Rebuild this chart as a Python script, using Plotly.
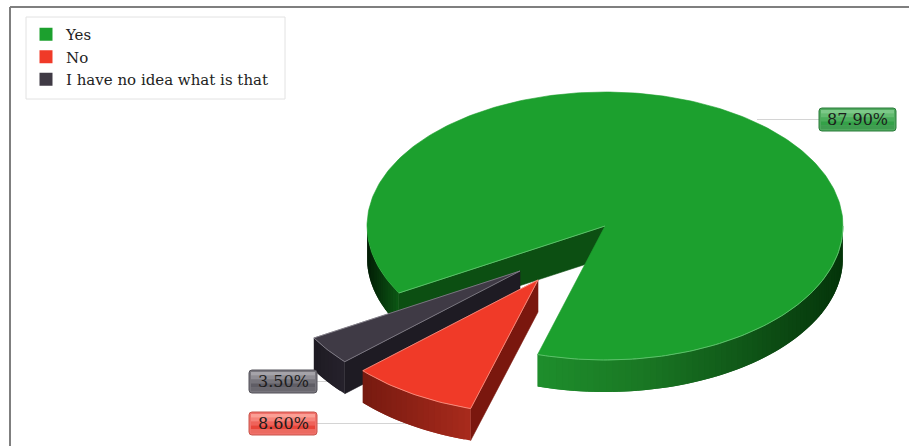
import math
import plotly.graph_objects as go

# ---- data ----
categories = ["Yes", "No", "I have no idea what is that"]
values = [87.9, 8.6, 3.5]

# ---- style / layout constants (pixels on a 909x446 canvas) ----
W, H = 909, 446
TOP_COL = ["#1ca02e", "#f03a28", "#3f3a45"]
EDGE_COL = ["#5cc06a", "#f79a8c", "#8a8690"]
SIDE_COL = ["#0c4f12", "#7a170e", "#1e1b23"]
# outer-wall colour stops as (x position, rgb)
WALL_STOPS = [
    [(367, (2, 28, 5)), (399, (12, 88, 20)), (538, (30, 142, 44)), (640, (26, 120, 36)), (740, (16, 88, 24)), (843, (4, 52, 10))],
    [(362, (118, 26, 16)), (470, (168, 42, 28))],
    [(315, (30, 27, 35)), (346, (38, 34, 44))],
]
CENTERS = [(605, 226), (538, 280), (520, 271)]
RX, RY, DEPTH = 238, 134, 32
START_DEG = 240
LABEL_BOX = [(819, 108), (249, 412), (249, 370)]
LABEL_W, LABEL_H = [77, 68, 68], 23
LEADER = [(757, 120), (415, 424), (332, 381)]
GLOSS = [
    ("#4fa95e", "#7cc888", "#63bb71", "#4aae5b", "#34a148", "#3f9d50", "#2b7d3a"),
    ("#f0706a", "#fb9f95", "#f6837a", "#ef635a", "#e8453a", "#ec6a60", "#c9574c"),
    ("#77757c", "#a5a3a9", "#8f8d94", "#76747b", "#5f5d65", "#6a686f", "#55535a"),
]


def lerp_color(stops, x):
    if x <= stops[0][0]:
        c = stops[0][1]
    elif x >= stops[-1][0]:
        c = stops[-1][1]
    else:
        for (x0, c0), (x1, c1) in zip(stops, stops[1:]):
            if x0 <= x <= x1:
                t = (x - x0) / (x1 - x0)
                c = tuple(a + (b - a) * t for a, b in zip(c0, c1))
                break
    return "rgb(%d,%d,%d)" % tuple(round(v) for v in c)


def rim(center, deg):
    a = math.radians(deg)
    return center[0] + RX * math.sin(a), center[1] - RY * math.cos(a)


def arc(center, a0, a1, step=1.0):
    n = max(2, int(abs(a1 - a0) / step) + 1)
    return [rim(center, a0 + (a1 - a0) * i / (n - 1)) for i in range(n)]


def poly(fig, pts, fill, line=None, width=0.6):
    xs, ys = zip(*pts)
    fig.add_trace(go.Scatter(
        x=list(xs) + [xs[0]], y=list(ys) + [ys[0]], mode="lines", fill="toself",
        fillcolor=fill, line=dict(color=line or fill, width=width),
        hoverinfo="skip", showlegend=False))


def wall(fig, center, a0, a1, stops):
    # each band overlaps the next one so no seams show between them
    pts = arc(center, a0, a1, 1.5)
    for j in range(len(pts) - 1):
        p, q = pts[j], pts[min(j + 2, len(pts) - 1)]
        mid = pts[j + 1]
        col = lerp_color(stops, (p[0] + mid[0]) / 2)
        band = [p, mid, q, (q[0], q[1] + DEPTH), (mid[0], mid[1] + DEPTH), (p[0], p[1] + DEPTH)]
        poly(fig, band, col, width=0)


# slice angles, clockwise in the disc plane, from the values
spans = [v / sum(values) * 360 for v in values]
a_yes0 = START_DEG
a_yes1 = a_yes0 + spans[0]
a_no1 = a_yes1 + spans[1]
a_idea1 = a_no1 + spans[2]
angles = [(a_yes0, a_yes1), (a_yes1, a_no1), (a_no1, a_idea1)]

fig = go.Figure()

# --- Yes slice ---
c = CENTERS[0]
a0, a1 = angles[0]
wall(fig, c, a0, 270, WALL_STOPS[0])
wall(fig, c, 90 + 360, a1, WALL_STOPS[0])
e = rim(c, a0)
poly(fig, [c, e, (e[0], e[1] + DEPTH), (c[0], c[1] + DEPTH)], SIDE_COL[0])
poly(fig, [c] + arc(c, a0, a1), TOP_COL[0], TOP_COL[0])
fig.add_trace(go.Scatter(x=[e[0], c[0]], y=[e[1], c[1]], mode="lines",
                         line=dict(color=EDGE_COL[0], width=1), hoverinfo="skip", showlegend=False))
pts = arc(c, 90 + 360, a1)
fig.add_trace(go.Scatter(x=[p[0] for p in pts], y=[p[1] for p in pts], mode="lines",
                         line=dict(color=EDGE_COL[0], width=1), hoverinfo="skip", showlegend=False))

# --- idea slice then No slice (front most last) ---
for i in (2, 1):
    c = CENTERS[i]
    a0, a1 = angles[i]
    e0 = rim(c, a0)
    poly(fig, [c, e0, (e0[0], e0[1] + DEPTH), (c[0], c[1] + DEPTH)], SIDE_COL[i])
    wall(fig, c, a0, a1, WALL_STOPS[i])
    outline = [c] + arc(c, a0, a1)
    poly(fig, outline, TOP_COL[i], TOP_COL[i])
    closed = outline + [c]
    fig.add_trace(go.Scatter(x=[p[0] for p in closed], y=[p[1] for p in closed], mode="lines",
                             line=dict(color=EDGE_COL[i], width=0.8), hoverinfo="skip", showlegend=False))

# --- legend entries ---
for name, col in zip(categories, TOP_COL):
    fig.add_trace(go.Scatter(x=[None], y=[None], mode="markers", name=name,
                             marker=dict(symbol="square", size=13, color=col)))

# --- frame, legend box and data labels ---
shapes = [
    dict(type="line", x0=10, x1=10, y0=7, y1=H, line=dict(color="#7f7f7f", width=2)),
    dict(type="line", x0=10, x1=W, y0=7, y1=7, line=dict(color="#7f7f7f", width=2)),
    dict(type="rect", x0=26, x1=285, y0=17, y1=99, fillcolor="white", line=dict(color="#e2e2e2", width=1)),
]
annotations = []
for v, (bx, by), bw, (lx, ly), g in zip(values, LABEL_BOX, LABEL_W, LEADER, GLOSS):
    my = by + LABEL_H / 2
    shapes.append(dict(type="line", layer="below", x0=lx, x1=bx, y0=my, y1=my,
                       line=dict(color="#d4d4d4", width=1)))
    bh = LABEL_H
    r = 3
    path = (f"M{bx+r},{by} L{bx+bw-r},{by} Q{bx+bw},{by} {bx+bw},{by+r} L{bx+bw},{by+bh-r} "
            f"Q{bx+bw},{by+bh} {bx+bw-r},{by+bh} L{bx+r},{by+bh} Q{bx},{by+bh} {bx},{by+bh-r} "
            f"L{bx},{by+r} Q{bx},{by} {bx+r},{by} Z")
    shapes.append(dict(type="path", path=path, fillcolor=g[0], line=dict(color=g[6], width=1)))
    for k, col in enumerate(g[1:6]):
        y0 = by + 2 + k * (bh - 4) / 5
        shapes.append(dict(type="rect", x0=bx + 2, x1=bx + bw - 2, y0=y0, y1=y0 + (bh - 4) / 5,
                           fillcolor=col, line_width=0))
    annotations.append(dict(x=bx + bw / 2, y=my, text=f"{v:.2f}%", showarrow=False,
                            font=dict(family="DejaVu Serif", size=16, color="#1c1c1c")))

fig.update_layout(
    width=W, height=H, autosize=False,
    margin=dict(l=0, r=0, t=0, b=0),
    paper_bgcolor="white", plot_bgcolor="white",
    xaxis=dict(range=[0, W], visible=False, fixedrange=True),
    yaxis=dict(range=[H, 0], visible=False, fixedrange=True),
    shapes=shapes, annotations=annotations,
    legend=dict(x=26 / W, y=1 - 18 / H, xanchor="left", yanchor="top",
                bgcolor="rgba(0,0,0,0)", borderwidth=0,
                font=dict(family="DejaVu Serif", size=15, color="#222222"),
                itemwidth=30),
)
fig.write_html("out.html", config=dict(displayModeBar=False),
               post_script="document.body.style.margin='0';document.documentElement.style.overflow='hidden';")
